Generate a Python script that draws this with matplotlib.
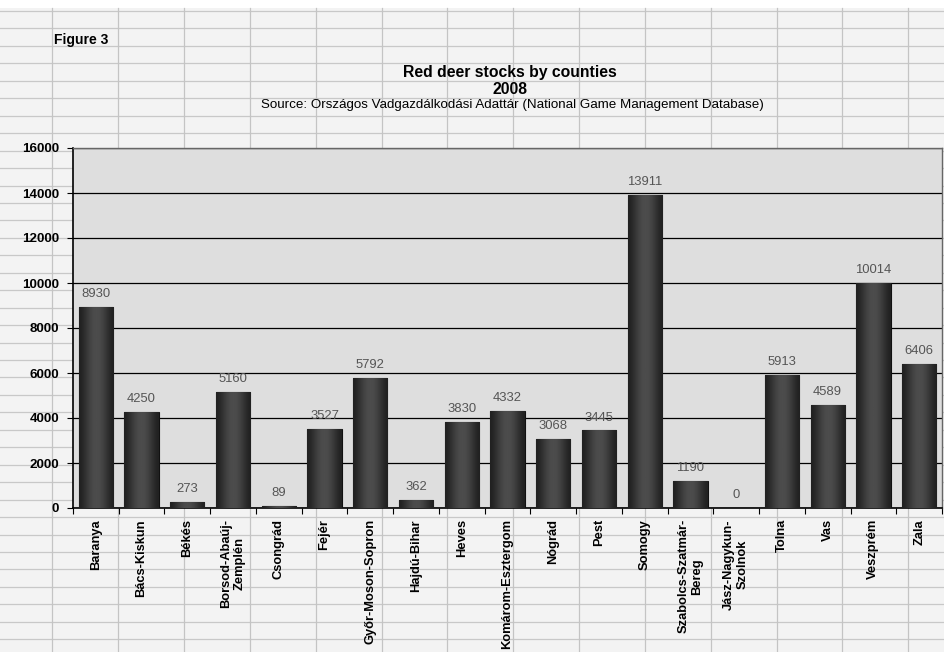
import numpy as np
import matplotlib
matplotlib.use("Agg")
from matplotlib import pyplot as plt
from matplotlib.lines import Line2D

counties = ["Baranya", "Bács-Kiskun", "Békés", "Borsod-Abaúj-\nZemplén", "Csongrád",
            "Fejér", "Győr-Moson-Sopron", "Hajdú-Bihar", "Heves", "Komárom-Esztergom",
            "Nógrád", "Pest", "Somogy", "Szabolcs-Szatmár-\nBereg", "Jász-Nagykun-\nSzolnok",
            "Tolna", "Vas", "Veszprém", "Zala"]
stocks = [8930, 4250, 273, 5160, 89, 3527, 5792, 362, 3830, 4332,
          3068, 3445, 13911, 1190, 0, 5913, 4589, 10014, 6406]
y_ticks = [0, 2000, 4000, 6000, 8000, 10000, 12000, 14000, 16000]

plt.rcParams['font.family'] = ['Liberation Sans', 'DejaVu Sans']

W, H = 945, 652
fig = plt.figure(figsize=(W / 100, H / 100), dpi=100)
fig.patch.set_facecolor("#f3f3f3")

# spreadsheet cells behind the chart
fig.add_artist(plt.Rectangle((0, 1 - 8 / H), 1, 8 / H, transform=fig.transFigure,
                             facecolor="white", edgecolor="none", zorder=0))
for k in range(40):
    yy = 11 + 17.45 * k
    if yy > H:
        break
    fig.add_artist(Line2D([0, 1], [1 - yy / H] * 2, transform=fig.transFigure,
                          color="#c8c8c8", lw=0.9, zorder=0))
for k in range(15):
    xx = 52.3 + 65.85 * k
    if xx > W:
        break
    fig.add_artist(Line2D([xx / W] * 2, [0, 1 - 8 / H], transform=fig.transFigure,
                          color="#c4c4c4", lw=0.9, zorder=0))

ax = fig.add_axes([73 / W, 144 / H, 869 / W, 360 / H])
ax.set_facecolor("#dedede")

x = np.arange(len(counties))
bars = ax.bar(x, stocks, width=0.75, color="#3a3a3a", edgecolor="#111111", lw=0.8, zorder=3)

# cylinder-like shading of bars
t = np.linspace(0, 1, 64)
shade = 0.13 + 0.17 * np.sin(np.pi * t) ** 1.5
grad = shade[np.newaxis, :]
for b in bars:
    if b.get_height() <= 0:
        continue
    im = ax.imshow(grad, extent=[b.get_x(), b.get_x() + b.get_width(), 0, b.get_height()],
                   aspect="auto", cmap="gray", vmin=0, vmax=1, zorder=3.5,
                   interpolation="bilinear")
    im.set_clip_path(b)

for xi, v in zip(x, stocks):
    ax.annotate(str(v), (xi, v), xytext=(0, 5), textcoords="offset points",
                ha="center", va="bottom", fontsize=9.4, color="#555555", zorder=5)

ax.set_xlim(-0.5, len(counties) - 0.5)
ax.set_ylim(0, 16000)
ax.set_yticks(y_ticks)
ax.set_yticklabels([str(v) for v in y_ticks], fontsize=9.6, fontweight="bold")
ax.yaxis.grid(True, color="black", lw=0.9, zorder=1)
ax.set_axisbelow(True)

ax.set_xticks(x)
ax.set_xticklabels(counties, rotation=90, fontsize=9.3, fontweight="bold",
                   va="top", ha="center", multialignment="center")
ax.set_xticks(np.arange(len(counties) + 1) - 0.5, minor=True)
ax.tick_params(axis="x", which="major", length=0, pad=8)
ax.tick_params(axis="x", which="minor", length=4, width=0.8, direction="out")
ax.tick_params(axis="y", length=4, width=0.8, pad=6)

for side in ["top", "right"]:
    ax.spines[side].set_color("#666666")
    ax.spines[side].set_linewidth(1.0)
ax.spines["left"].set_linewidth(1.2)
ax.spines["bottom"].set_linewidth(1.2)

fig.text(54 / W, 1 - 40 / H, "Figure 3", fontsize=10, fontweight="bold", va="center")
fig.text(510 / W, 1 - 72 / H, "Red deer stocks by counties", fontsize=11.3,
         fontweight="bold", ha="center", va="center")
fig.text(510 / W, 1 - 89 / H, "2008", fontsize=11.3, fontweight="bold",
         ha="center", va="center")
fig.text(512 / W, 1 - 105 / H,
         "Source: Országos Vadgazdálkodási Adattár (National Game Management Database)",
         fontsize=9.6, ha="center", va="center")

fig.savefig("out.png", dpi=100, facecolor=fig.get_facecolor())
